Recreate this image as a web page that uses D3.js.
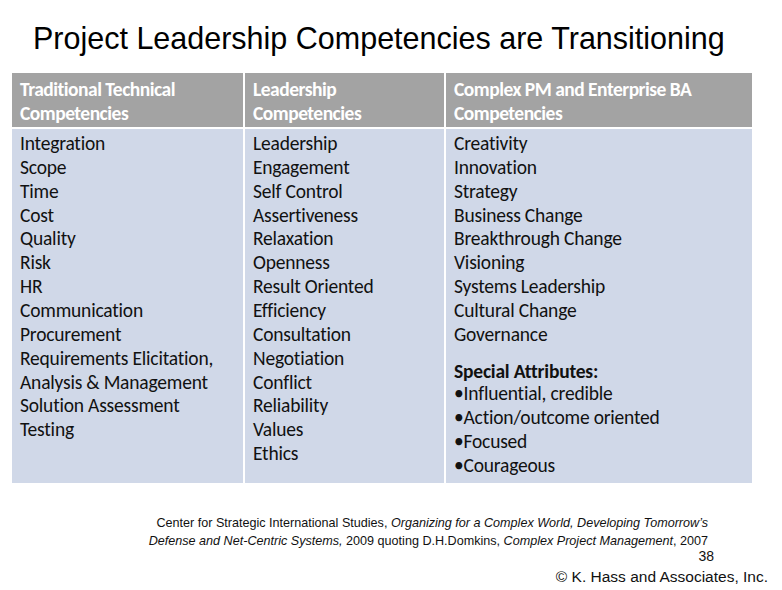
<!DOCTYPE html>
<html><head><meta charset="utf-8">
<script src="https://cdn.jsdelivr.net/npm/d3@7"></script>
<style>body{margin:0;background:#fff}</style>
</head><body>
<svg id="c" width="782" height="590"></svg>
<script>
const headers = [["Traditional  Technical", "Competencies"], ["Leadership", "Competencies"], ["Complex PM and Enterprise BA", "Competencies"]];
const traditional = ["Integration", "Scope", "Time", "Cost", "Quality", "Risk", "HR", "Communication", "Procurement", "Requirements Elicitation,", "Analysis & Management", "Solution Assessment", "Testing"];
const leadership = ["Leadership", "Engagement", "Self Control", "Assertiveness", "Relaxation", "Openness", "Result Oriented", "Efficiency", "Consultation", "Negotiation", "Conflict", "Reliability", "Values", "Ethics"];
const complex = ["Creativity", "Innovation", "Strategy", "Business Change", "Breakthrough Change", "Visioning", "Systems Leadership", "Cultural Change", "Governance"];
const attributes = ["Influential, credible", "Action/outcome oriented", "Focused", "Courageous"];
const columnEdges = [12, 245, 446, 754];

const svg = d3.select("#c");
const font = "Carlito, 'Open Sans', sans-serif";
const x = d3.scaleLinear().domain([0, 1, 2, 3]).range(columnEdges);
const row = d3.scaleLinear().domain([0, 1]).range([150, 173.85]);

svg.append("text").attr("x", 33).attr("y", 49).attr("font-family", "Arial, 'Liberation Sans', sans-serif")
  .attr("font-size", 30.5).text("Project Leadership Competencies are Transitioning");

const cols = [0, 1, 2];
svg.selectAll("rect.h").data(cols).join("rect").attr("class", "h")
  .attr("x", d => x(d)).attr("y", 73).attr("width", d => x(d + 1) - x(d) - 2).attr("height", 54).attr("fill", "#a3a3a3");
svg.selectAll("rect.b").data(cols).join("rect").attr("class", "b")
  .attr("x", d => x(d)).attr("y", 129).attr("width", d => x(d + 1) - x(d) - 2).attr("height", 354).attr("fill", "#d0d8e8");

headers.forEach((h, i) => {
  svg.append("text").attr("font-family", font).attr("font-size", 19.5).attr("font-weight", "bold")
    .attr("fill", "#fff").attr("letter-spacing", -0.5)
    .selectAll("tspan").data(h).join("tspan").attr("x", x(i) + 8).attr("y", (d, j) => 96 + j * 23.5).text(d => d);
});

function list(items, col, start, weight) {
  svg.append("g").selectAll("text").data(items).join("text")
    .attr("x", x(col) + 8).attr("y", (d, j) => row(start + j))
    .attr("font-family", font).attr("font-size", 19.5).attr("font-weight", weight || "normal")
    .attr("letter-spacing", -0.2).attr("fill", "#111").text(d => d);
}
list(traditional, 0, 0);
list(leadership, 1, 0);
list(complex, 2, 0);
list(["Special Attributes:"], 2, 9.55, "bold");
list(attributes.map(d => "\u2022" + d), 2, 10.5);

const foot = svg.append("g").attr("font-family", "Arial, 'Liberation Sans', sans-serif").attr("font-size", 12.6)
  .attr("text-anchor", "end").attr("fill", "#111");
const l1 = foot.append("text").attr("x", 708).attr("y", 527);
l1.append("tspan").text("Center for Strategic International Studies, ");
l1.append("tspan").attr("font-style", "italic").text("Organizing for a Complex World, Developing Tomorrow\u2019s");
const l2 = foot.append("text").attr("x", 708).attr("y", 545);
l2.append("tspan").attr("font-style", "italic").text("Defense and Net-Centric Systems,");
l2.append("tspan").text(" 2009 quoting D.H.Domkins, ");
l2.append("tspan").attr("font-style", "italic").text("Complex Project Management");
l2.append("tspan").text(", 2007");
foot.append("text").attr("x", 714).attr("y", 561).attr("font-size", 14).text("38");
foot.append("text").attr("x", 768).attr("y", 582).attr("font-size", 15.5).text("\u00a9 K. Hass and Associates, Inc.");
</script>
</body></html>
